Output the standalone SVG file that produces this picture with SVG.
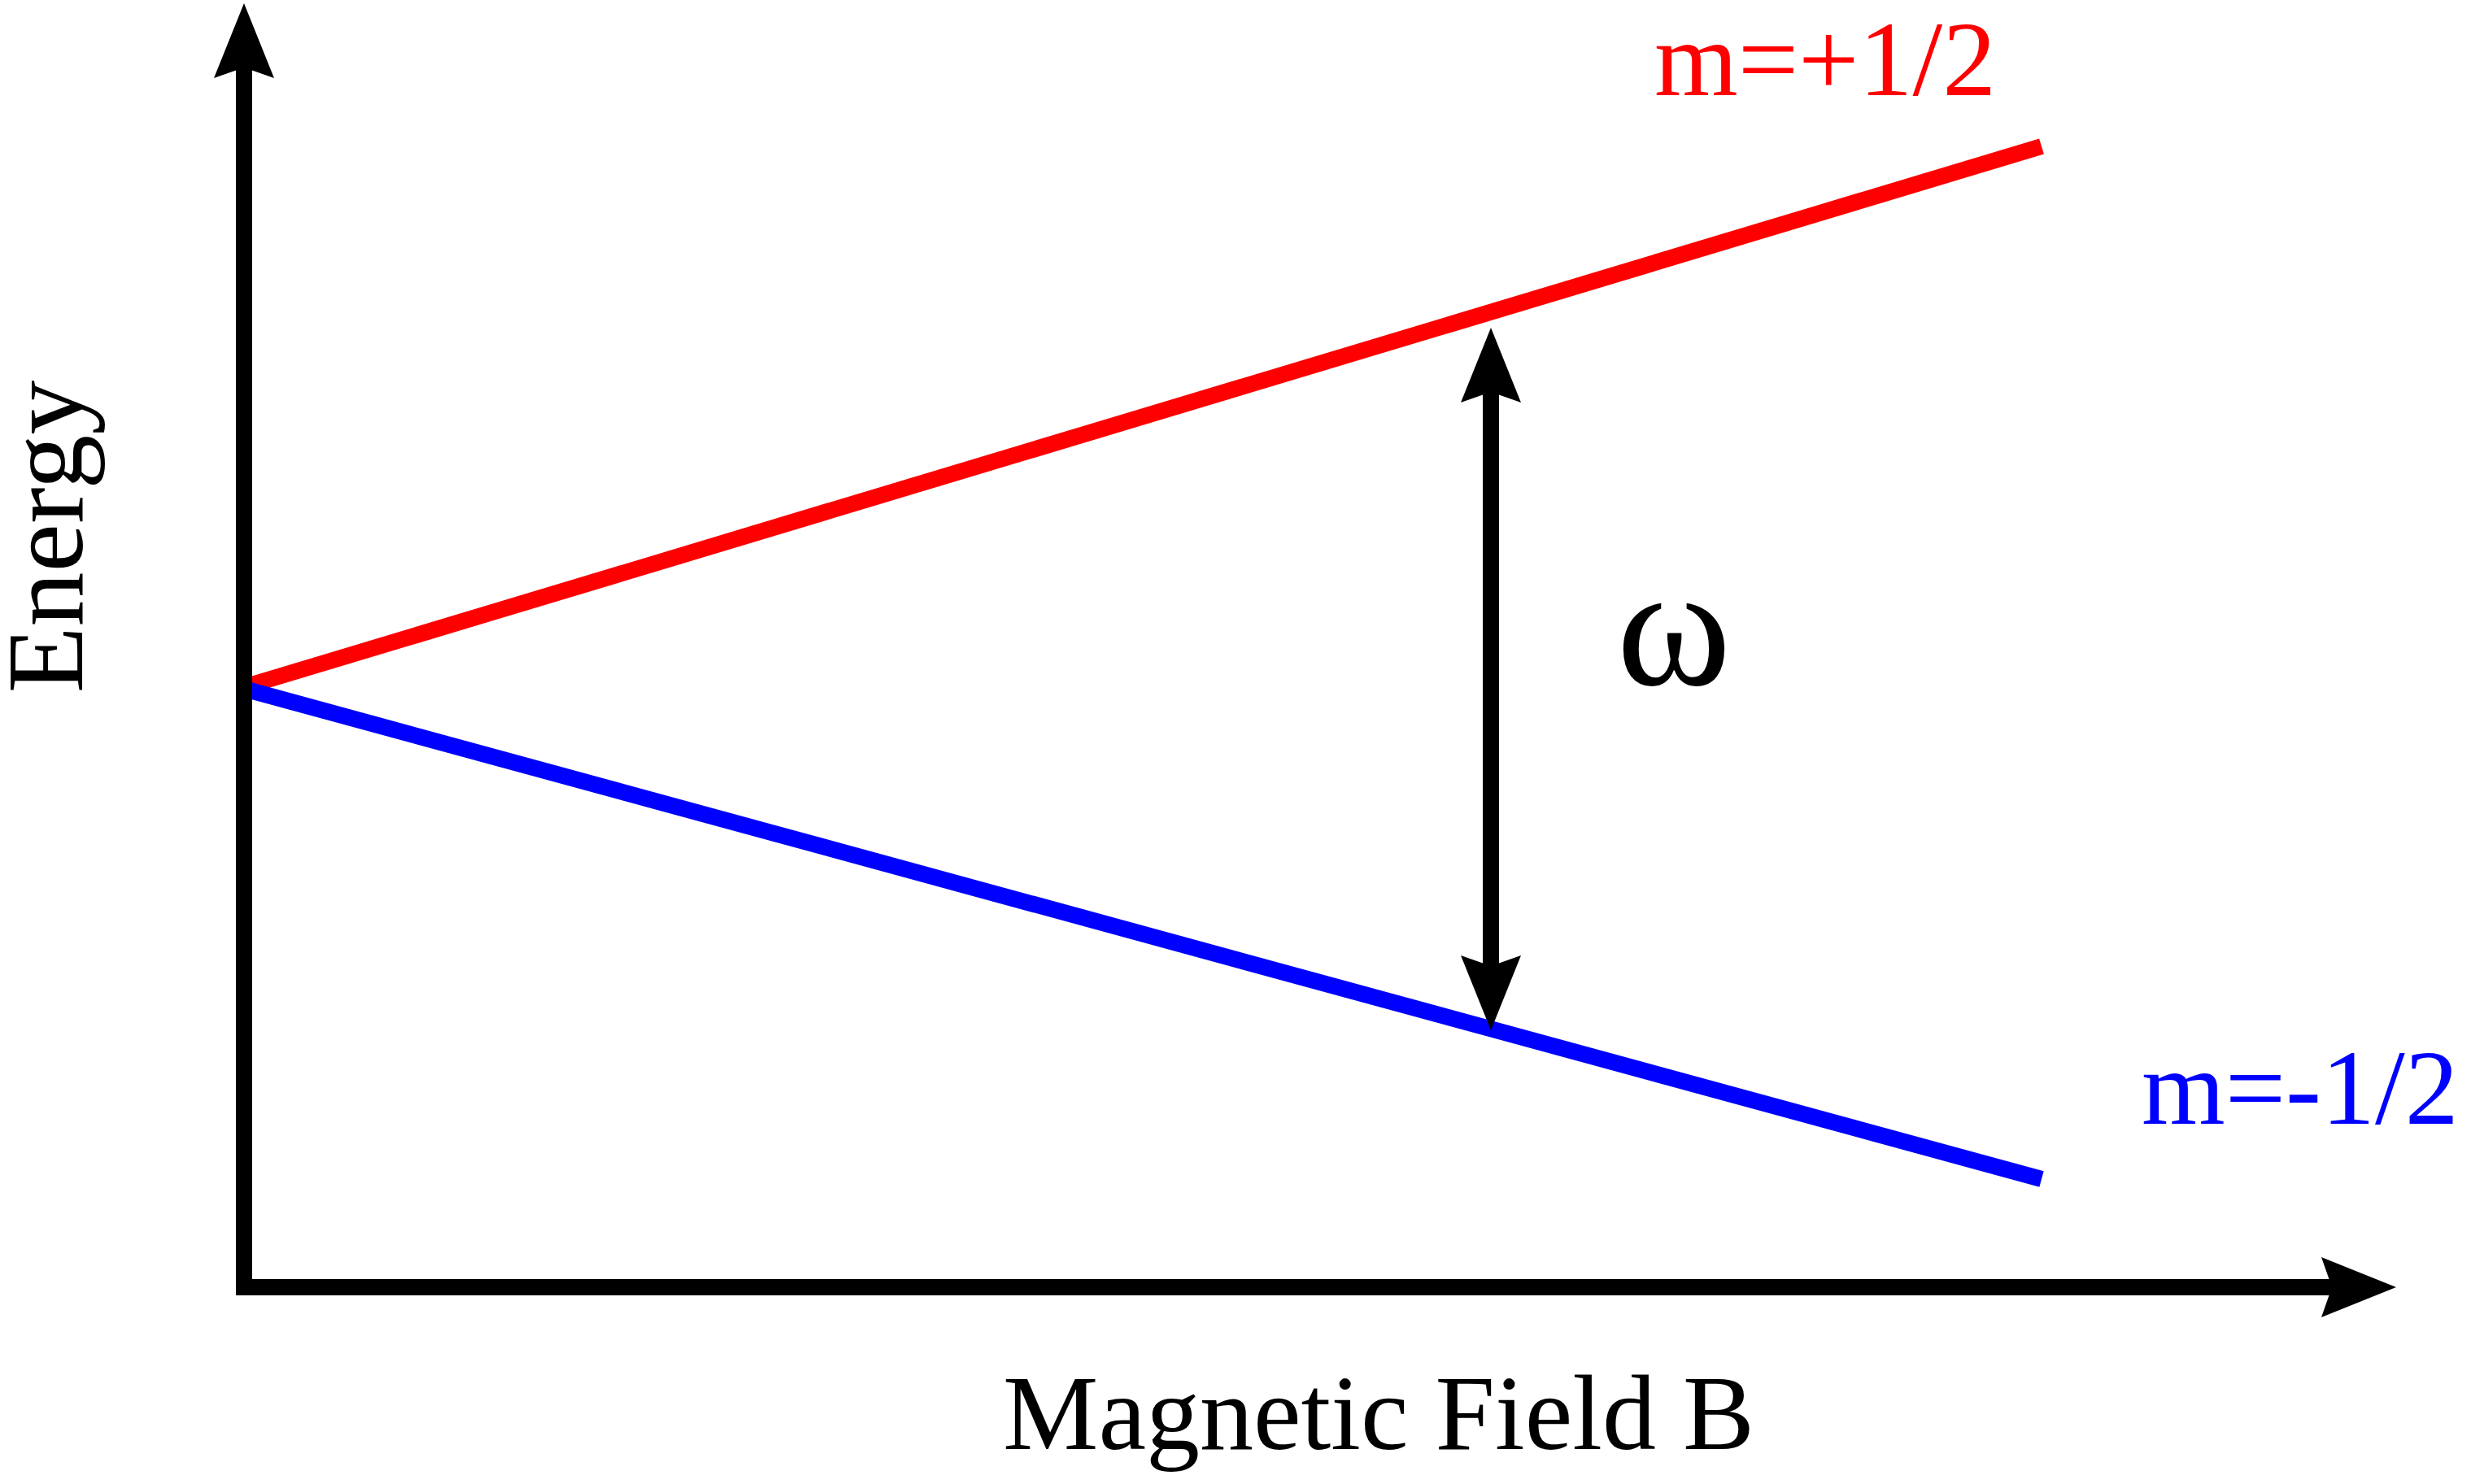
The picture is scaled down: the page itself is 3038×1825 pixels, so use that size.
<svg xmlns="http://www.w3.org/2000/svg" width="3038" height="1825" viewBox="0 0 3038 1825">
<style>
.ax{fill:none;stroke:#000;stroke-width:20;stroke-linejoin:miter;stroke-linecap:butt}
.lvl{fill:none;stroke-width:20;stroke-linecap:butt}
.t{font-family:"Liberation Serif","Times New Roman",serif;font-size:132px}
</style>
<defs>
<marker id="ah" markerUnits="userSpaceOnUse" viewBox="-20 -40 110 80" refX="0" refY="0" markerWidth="110" markerHeight="80" orient="auto-start-reverse" overflow="visible">
<path d="M79,0 L-13,-37 L0,0 L-13,37 Z" fill="#000"/>
</marker>
</defs>
<rect width="3038" height="1825" fill="#fff"/>
<g id="levels">
<line id="upper" class="lvl" x1="296" y1="846" x2="2510" y2="180" stroke="#ff0000"/>
<line id="lower" class="lvl" x1="296" y1="846" x2="2510" y2="1450" stroke="#0000ff"/>
</g>
<g id="connectors">
<polyline class="ax" points="300,83 300,1583 2867,1583" marker-start="url(#ah)" marker-end="url(#ah)"/>
<line class="ax" x1="1833" y1="482" x2="1833" y2="1188" marker-start="url(#ah)" marker-end="url(#ah)"/>
</g>
<g id="labels">
<text id="energy" class="t" transform="translate(101,660) rotate(-90)" text-anchor="middle" style="font-size:134px">Energy</text>
<text id="field" class="t" x="1695" y="1782" text-anchor="middle">Magnetic Field B</text>
<text id="mplus" class="t" x="2034" y="117" fill="#ff0000">m=+1/2</text>
<text id="mminus" class="t" x="2633" y="1382" fill="#0000ff">m=-1/2</text>
<text id="omega" class="t" x="2058" y="842" text-anchor="middle" style="font-size:214px">ω</text>
</g>
</svg>
